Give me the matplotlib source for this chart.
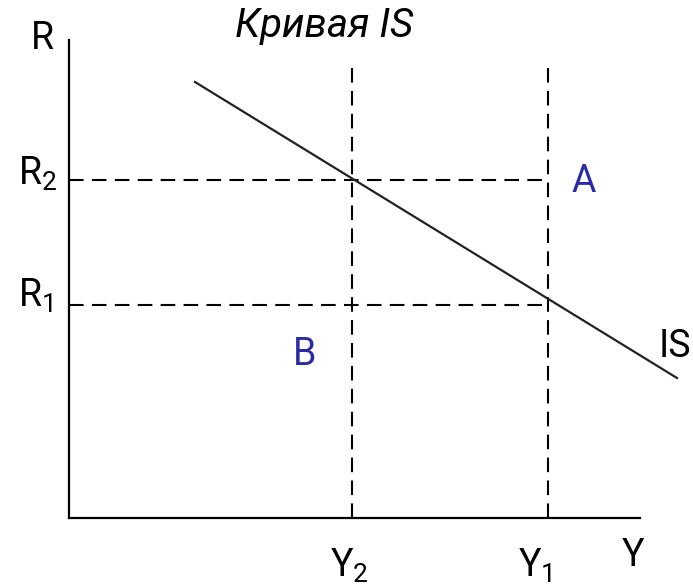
import matplotlib.pyplot as plt

plt.rcParams["mathtext.fontset"] = "custom"
plt.rcParams["mathtext.rm"] = "Roboto"
plt.rcParams["mathtext.it"] = "Roboto:italic"

# positions on the chart (origin at the axes corner)
y_levels = {"Y2": 283, "Y1": 479}
r_levels = {"R2": 338, "R1": 213}
is_x = [126, 608]
is_y = [436, 140]
axis_top = 478
axis_right = 571
dash_top = 452

fig = plt.figure(figsize=(6.93, 5.85), dpi=100)
ax = fig.add_axes([0, 0, 1, 1])
ax.set_xlim(-69, 624)
ax.set_ylim(-67, 518)
ax.axis("off")

# axes
ax.plot([0, 0], [0, axis_top], color="black", lw=1.6)
ax.plot([0, axis_right], [0, 0], color="black", lw=1.6)

# dashed guides
dash = dict(color="black", lw=1.5, linestyle=(0, (7, 4)))
for r in r_levels.values():
    ax.plot([0, y_levels["Y1"]], [r, r], **dash)
for y in y_levels.values():
    ax.plot([y, y], [0, dash_top], **dash)

# IS curve
ax.plot(is_x, is_y, color="#222222", lw=1.6)

txt = dict(fontsize=27, ha="left", va="baseline", family="Roboto")
ax.text(-38, 469, "R", **txt)
ax.text(-51, 333, r"R$_\mathrm{2}$", **txt)
ax.text(-51, 211, r"R$_\mathrm{1}$", **txt)
ax.text(261, -59, r"Y$_\mathrm{2}$", **txt)
ax.text(449, -59, r"Y$_\mathrm{1}$", **txt)
ax.text(553, -48, "Y", **txt)
ax.text(590, 161, "IS", **txt)
ax.text(503, 326, "A", color="#2b2ba8", **txt)
ax.text(224, 153, "B", color="#2b2ba8", **txt)
ax.text(166, 481, "Кривая IS", style="italic", fontsize=29, ha="left",
        va="baseline", family="Roboto")

fig.savefig("out.png", dpi=100)
